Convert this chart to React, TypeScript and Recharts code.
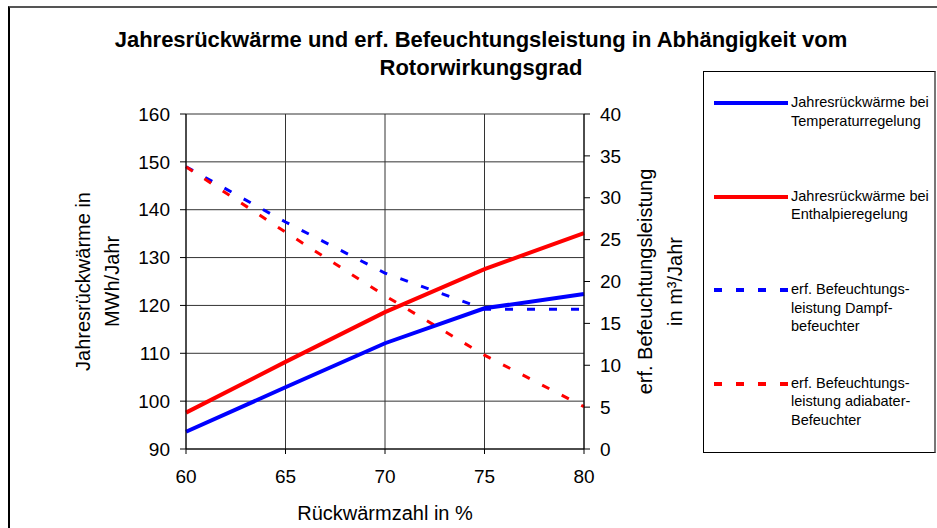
import { LineChart, Line, XAxis, YAxis, CartesianGrid } from "recharts";

const rates = [60, 65, 70, 75, 80];
const heatTemp = [93.6, 102.9, 112.1, 119.4, 122.4];
const heatEnth = [97.6, 108.2, 118.6, 127.6, 135.1];
const humidSteam = [33.7, 27.1, 21.0, 16.7, 16.7];
const humidAdiab = [33.7, 25.9, 18.3, 11.2, 5.05];

const leftTicks = [90, 100, 110, 120, 130, 140, 150, 160];
const rightTicks = [0, 5, 10, 15, 20, 25, 30, 35, 40];

const titleLines = [
  "Jahresrückwärme und erf. Befeuchtungsleistung in Abhängigkeit vom",
  "Rotorwirkungsgrad",
];
const leftLabel = ["Jahresrückwärme in", "MWh/Jahr"];
const rightLabel = ["erf. Befeuchtungsleistung", "in m³/Jahr"];
const xLabel = "Rückwärmzahl in %";

const legendItems = [
  { lines: ["Jahresrückwärme bei", "Temperaturregelung"], color: "#0000ff", dashed: false },
  { lines: ["Jahresrückwärme bei", "Enthalpieregelung"], color: "#ff0000", dashed: false },
  { lines: ["erf. Befeuchtungs-", "leistung Dampf-", "befeuchter"], color: "#0000ff", dashed: true },
  { lines: ["erf. Befeuchtungs-", "leistung adiabater-", "Befeuchter"], color: "#ff0000", dashed: true },
];

const data = rates.map((r, i) => ({
  rate: r,
  heatTemp: heatTemp[i],
  heatEnth: heatEnth[i],
  humidSteam: humidSteam[i],
  humidAdiab: humidAdiab[i],
}));

const font = "'Liberation Sans', Arial, sans-serif";
const tickStyle = { fill: "#000", fontSize: 19, fontFamily: font };

function AxisTitle({ viewBox, lines, offsets }: any) {
  const cy = viewBox.y + viewBox.height / 2;
  return (
    <g>
      {lines.map((t: string, i: number) => {
        const cx = viewBox.x + offsets[i];
        return (
          <text
            key={i}
            x={cx}
            y={cy}
            transform={`rotate(-90, ${cx}, ${cy})`}
            textAnchor="middle"
            dominantBaseline="central"
            fontSize={20}
            fontFamily={font}
            fill="#000"
          >
            {t}
          </text>
        );
      })}
    </g>
  );
}

function XTitle({ viewBox }: any) {
  return (
    <text
      x={viewBox.x + viewBox.width / 2}
      y={viewBox.y + 64}
      textAnchor="middle"
      dominantBaseline="central"
      fontSize={20}
      fontFamily={font}
      fill="#000"
    >
      {xLabel}
    </text>
  );
}

function LegendBox() {
  return (
    <div
      style={{
        position: "absolute",
        left: 703,
        top: 71,
        width: 230,
        height: 380,
        border: "1px solid #000",
        borderRight: "2px solid #777",
        background: "#fff",
        fontFamily: font,
      }}
    >
      {legendItems.map((item, i) => (
        <div key={i} style={{ position: "absolute", left: 10, top: 21 + i * 93.5 }}>
          <svg width={74} height={6} style={{ position: "absolute", left: 0, top: 7 }}>
            <line
              x1={0}
              y1={3}
              x2={74}
              y2={3}
              stroke={item.color}
              strokeWidth={4}
              strokeDasharray={item.dashed ? "8 14" : undefined}
            />
          </svg>
          <div style={{ position: "absolute", left: 77, top: 0, fontSize: 14.5, lineHeight: "18.5px", whiteSpace: "nowrap", color: "#000" }}>
            {item.lines.map((l, j) => (
              <div key={j}>{l}</div>
            ))}
          </div>
        </div>
      ))}
    </div>
  );
}

export default function App() {
  return (
    <div style={{ position: "absolute", left: 0, top: 0, width: 937, height: 528, overflow: "hidden", background: "#fff", fontFamily: font }}>
      <div style={{ position: "absolute", left: 8, top: 6, width: 940, height: 540, borderTop: "2px solid #555", borderLeft: "2px solid #000" }} />
      <div style={{ position: "absolute", left: 0, top: 26, width: 962, textAlign: "center", fontWeight: "bold", fontSize: 22, lineHeight: "28px", color: "#000" }}>
        {titleLines.map((t, i) => (
          <div key={i}>{t}</div>
        ))}
      </div>
      <div style={{ position: "absolute", left: 0, top: 0 }}>
        <LineChart width={937} height={528} data={data} margin={{ top: 114, left: 0, right: 243, bottom: 19 }}>
          <CartesianGrid yAxisId="left" stroke="#333" strokeWidth={1} />
          <XAxis
            dataKey="rate"
            type="number"
            domain={[60, 80]}
            ticks={rates}
            height={60}
            tickSize={5}
            tickMargin={16}
            stroke="#000"
            tick={tickStyle}
            label={<XTitle />}
          />
          <YAxis
            yAxisId="left"
            domain={[90, 160]}
            ticks={leftTicks}
            width={186}
            tickSize={6}
            tickMargin={10}
            stroke="#000"
            tick={tickStyle}
            label={<AxisTitle lines={leftLabel} offsets={[83, 112]} />}
          />
          <YAxis
            yAxisId="right"
            orientation="right"
            domain={[0, 40]}
            ticks={rightTicks}
            width={110}
            tickSize={6}
            tickMargin={10}
            stroke="#000"
            tick={tickStyle}
            label={<AxisTitle lines={rightLabel} offsets={[61, 91]} />}
          />
          <Line yAxisId="right" dataKey="humidSteam" name="erf. Befeuchtungsleistung Dampfbefeuchter" stroke="#0000ff" strokeWidth={3} strokeDasharray="8 14" dot={false} isAnimationActive={false} />
          <Line yAxisId="right" dataKey="humidAdiab" name="erf. Befeuchtungsleistung adiabater-Befeuchter" stroke="#ff0000" strokeWidth={3} strokeDasharray="8 14" dot={false} isAnimationActive={false} />
          <Line yAxisId="left" dataKey="heatTemp" name="Jahresrückwärme bei Temperaturregelung" stroke="#0000ff" strokeWidth={4} dot={false} isAnimationActive={false} />
          <Line yAxisId="left" dataKey="heatEnth" name="Jahresrückwärme bei Enthalpieregelung" stroke="#ff0000" strokeWidth={4} dot={false} isAnimationActive={false} />
        </LineChart>
      </div>
      <LegendBox />
    </div>
  );
}
